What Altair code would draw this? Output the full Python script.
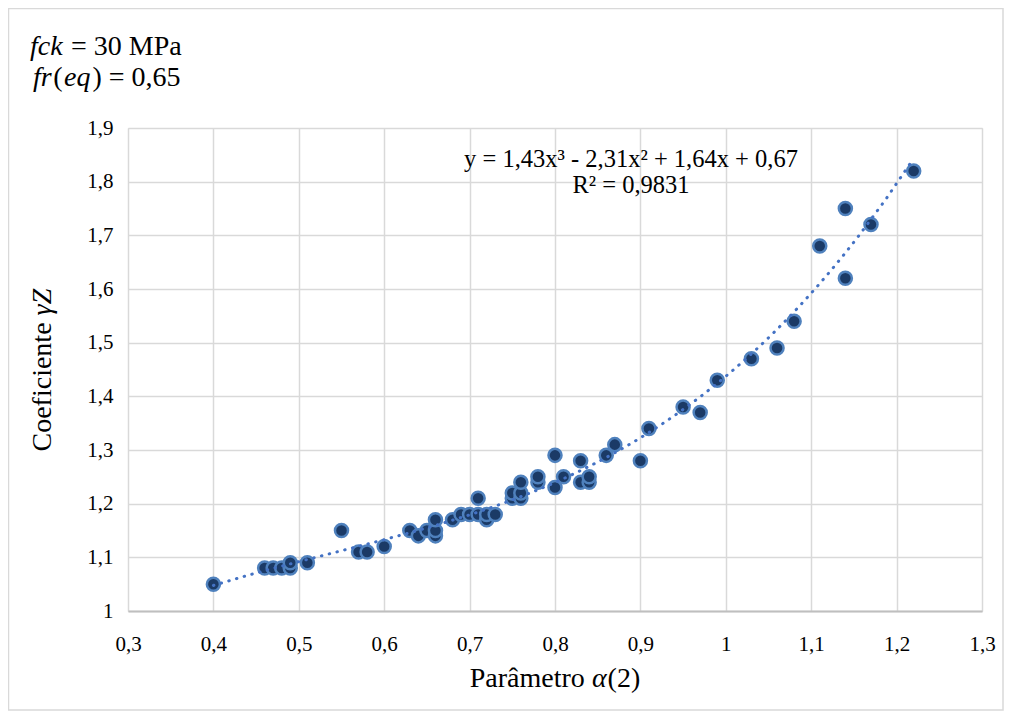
import altair as alt
import pandas as pd

# ---- data ----
alpha = [0.40, 0.46, 0.47, 0.48, 0.49, 0.49, 0.51, 0.55, 0.57, 0.58, 0.60, 0.63, 0.64,
         0.65, 0.66, 0.66, 0.66, 0.68, 0.69, 0.70, 0.71, 0.71, 0.72, 0.72, 0.73, 0.75,
         0.75, 0.76, 0.76, 0.76, 0.78, 0.78, 0.80, 0.80, 0.81, 0.83, 0.83, 0.84, 0.84,
         0.86, 0.87, 0.90, 0.91, 0.95, 0.97, 0.99, 1.03, 1.06, 1.08, 1.11, 1.14, 1.14,
         1.17, 1.22]
gamma = [1.05, 1.08, 1.08, 1.08, 1.08, 1.09, 1.09, 1.15, 1.11, 1.11, 1.12, 1.15, 1.14,
         1.15, 1.14, 1.15, 1.17, 1.17, 1.18, 1.18, 1.21, 1.18, 1.17, 1.18, 1.18, 1.21,
         1.22, 1.21, 1.22, 1.24, 1.24, 1.25, 1.29, 1.23, 1.25, 1.28, 1.24, 1.24, 1.25,
         1.29, 1.31, 1.28, 1.34, 1.38, 1.37, 1.43, 1.47, 1.49, 1.54, 1.68, 1.75, 1.62,
         1.72, 1.82]
x_ticks = [0.3, 0.4, 0.5, 0.6, 0.7, 0.8, 0.9, 1.0, 1.1, 1.2, 1.3]
y_ticks = [1.0, 1.1, 1.2, 1.3, 1.4, 1.5, 1.6, 1.7, 1.8, 1.9]
equation = "y = 1,43x³ - 2,31x² + 1,64x + 0,67"
r_squared = "R² = 0,9831"

df = pd.DataFrame({"alpha": alpha, "gamma": gamma})

FONT = "Liberation Serif"
W, H = 854, 483
NB = "\u00a0"

# approximate Times metrics (per 1000 em) to chain mixed-style text
REG = {" ": 250, NB: 250, "=": 564, ",": 250, "(": 333, ")": 333, "M": 889, "P": 556,
       "a": 444, "C": 667, "o": 500, "e": 444, "f": 333, "i": 278, "c": 444, "n": 500,
       "t": 278, "r": 333, "â": 444, "m": 778}
ITA = {"f": 278, "c": 444, "k": 444, "r": 389, "e": 444, "q": 500, "Z": 556,
       "γ": 440, "α": 520}


def width(s, size, italic=False):
    tab = ITA if italic else REG
    return sum(tab.get(ch, 500) for ch in s) * size / 1000.0


def txt(s, x, y, size, italic=False, angle=0, align="left", baseline="alphabetic"):
    kw = dict(font=FONT, fontSize=size, align=align, baseline=baseline, color="black")
    if italic:
        kw["fontStyle"] = "italic"
    if angle:
        kw["angle"] = angle
    return alt.Chart(pd.DataFrame({"t": [s]})).mark_text(**kw).encode(
        text="t:N", x=alt.value(x), y=alt.value(y))


def runs(parts, x0, y, size, angle=0):
    # parts: (text, italic, extra gap before in em)
    layers = []
    pos = x0
    for s, it, gap in parts:
        if angle:
            pos -= gap * size
            layers.append(txt(s, y, pos, size, it, angle=angle))
            pos -= width(s, size, it)
        else:
            pos += gap * size
            layers.append(txt(s, pos, y, size, it))
            pos += width(s, size, it)
    return layers


label_expr = "replace(format(datum.value, '.1~f'), '.', ',')"

base = alt.Chart(df)

points = base.mark_point(
    shape="circle", filled=True, size=170, fill="#1B3A66", stroke="#4F81BD",
    strokeWidth=2.5, opacity=1
).encode(
    x=alt.X("alpha:Q", scale=alt.Scale(domain=[0.3, 1.3], nice=False, zero=False),
            axis=alt.Axis(values=x_ticks, labelExpr=label_expr, title=None,
                          grid=True, gridColor="#D9D9D9", gridWidth=1.5,
                          domainColor="#BFBFBF", domainWidth=2, ticks=False,
                          labelFlush=False, labelOverlap=False,
                          labelFont=FONT, labelFontSize=21, labelColor="black",
                          labelPadding=22)),
    y=alt.Y("gamma:Q", scale=alt.Scale(domain=[1.0, 1.9], nice=False, zero=False),
            axis=alt.Axis(values=y_ticks, labelExpr=label_expr, title=None,
                          grid=True, gridColor="#D9D9D9", gridWidth=1.5,
                          domain=False, ticks=False,
                          labelFlush=False, labelOverlap=False,
                          labelFont=FONT, labelFontSize=21, labelColor="black",
                          labelPadding=15)),
)

trend = base.transform_regression(
    "alpha", "gamma", method="poly", order=3, extent=[0.4, 1.22]
).mark_line(
    color="#4472C4", strokeWidth=3, strokeDash=[0.5, 7.5], strokeCap="round"
).encode(x="alpha:Q", y="gamma:Q")

border = alt.Chart(pd.DataFrame({"b": [0]})).mark_rect(
    fill="white", fillOpacity=0, stroke="#D9D9D9", strokeWidth=1.5
).encode(x=alt.value(-119.5), x2=alt.value(875), y=alt.value(-119.5), y2=alt.value(582))

texts = []
# top-left annotation
texts += runs([("fck", True, 0), ("= 30 MPa", False, 0.3)], -98, -73, 28)
texts += runs([("fr", True, 0), ("(", False, 0.06), ("eq", True, 0.05),
               (") = 0,65", False, 0.07)], -95, -42, 28)
# equation
texts.append(txt(equation, 503, 39, 24.5, align="center"))
texts.append(txt(r_squared, 503, 65, 24.5, align="center"))
# x title
xt_parts = [("Parâmetro", False, 0), ("α", True, 0.25), ("(2)", False, 0.04)]
xt_w = sum(width(s, 28, i) + g * 28 for s, i, g in xt_parts)
texts += runs(xt_parts, W / 2 - xt_w / 2, 559, 28)
# y title (rotated)
yt_parts = [("Coeficiente", False, 0), ("γZ", True, 0.25)]
yt_w = sum(width(s, 28, i) + g * 28 for s, i, g in yt_parts)
texts += runs(yt_parts, H / 2 + yt_w / 2, -77, 28, angle=270)

chart = alt.layer(border, points, trend, *texts).properties(
    width=W, height=H,
    padding={"left": 120, "top": 120, "right": 22, "bottom": 100},
    autosize=alt.AutoSizeParams(type="none"),
).configure_view(stroke=None).configure(background="white")

chart.save("out.html", embed_options={"renderer": "svg", "actions": False})
